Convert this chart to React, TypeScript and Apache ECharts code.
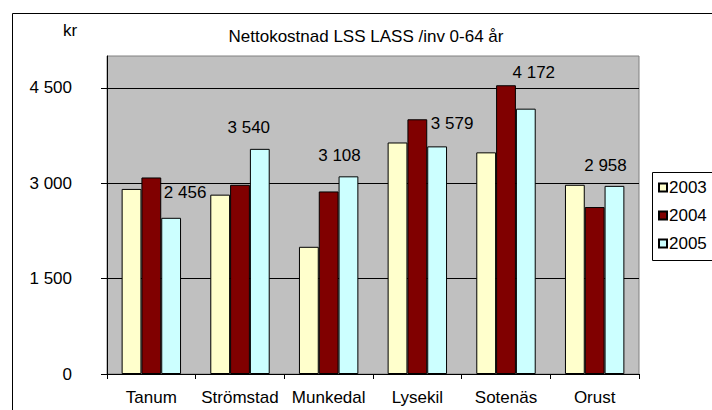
import React, { useEffect, useRef } from "react";
import * as echarts from "echarts";

const categories = ["Tanum", "Strömstad", "Munkedal", "Lysekil", "Sotenäs", "Orust"];
const seriesNames = ["2003", "2004", "2005"];
const values2003 = [2910, 2820, 2000, 3640, 3485, 2975];
const values2004 = [3090, 2975, 2870, 4005, 4540, 2625];
const values2005 = [2456, 3540, 3108, 3579, 4172, 2958];
const yTicks = [0, 1500, 3000, 4500];
const titleText = "Nettokostnad LSS LASS /inv 0-64 år";
const unitText = "kr";

// label placement tweaks for the 2005 data labels (pixels)
const labelOffsets = [
  [14, -13],
  [-11, -9],
  [-9, -8],
  [15, -10],
  [8, -24],
  [-9, -8],
];

const FONT = "Liberation Sans, Arial, sans-serif";
const FS = 17;
const fmt = (v: number) => String(v).replace(/\B(?=(\d{3})+(?!\d))/g, " ");

export default function App() {
  const ref = useRef<HTMLDivElement>(null);
  useEffect(() => {
    document.documentElement.style.overflow = "hidden";
    document.body.style.overflow = "hidden";
    const chart = echarts.init(ref.current!, null, { renderer: "svg" });
    const colors = ["#FFFFCC", "#800000", "#CCFFFF"];
    const vals = [values2003, values2004, values2005];
    const option: any = {
      animation: false,
      backgroundColor: "#ffffff",
      textStyle: { fontFamily: FONT, color: "#000" },
      graphic: [
        {
          type: "rect",
          shape: { x: 12.5, y: 13.5, width: 900, height: 600 },
          style: { fill: "none", stroke: "#000", lineWidth: 1 },
          silent: true,
          z: -10,
        },
        {
          type: "rect",
          shape: { x: 652.5, y: 172.5, width: 200, height: 88 },
          style: { fill: "#fff", stroke: "#000", lineWidth: 1 },
          silent: true,
          z: 0,
        },
        {
          type: "text",
          x: 63,
          y: 30,
          style: { text: unitText, font: `${FS}px ${FONT}`, fill: "#000", textVerticalAlign: "middle" },
        },
        {
          type: "text",
          x: 366,
          y: 36,
          style: {
            text: titleText,
            font: `${FS}px ${FONT}`,
            fill: "#000",
            textAlign: "center",
            textVerticalAlign: "middle",
          },
        },
      ],
      legend: {
        orient: "vertical",
        left: 652,
        top: 172,
        padding: [7, 6, 5, 6],
        itemWidth: 8,
        itemHeight: 8,
        itemGap: 11,
        icon: "rect",
        z: 5,
        textStyle: { fontFamily: FONT, fontSize: FS, color: "#000", padding: [0, 0, 0, -3] },
        data: seriesNames,
      },
      grid: {
        left: 107,
        top: 56,
        width: 532,
        height: 318,
        show: true,
        backgroundColor: "#C0C0C0",
        borderColor: "#808080",
        borderWidth: 1,
      },
      xAxis: {
        type: "category",
        data: categories,
        axisLine: { lineStyle: { color: "#000", width: 1 } },
        axisTick: { show: true, length: 5, lineStyle: { color: "#000" } },
        axisLabel: {
          fontFamily: FONT,
          fontSize: FS,
          color: "#000",
          margin: 15,
          interval: 0,
          hideOverlap: false,
        },
        splitLine: { show: false },
      },
      yAxis: {
        type: "value",
        min: 0,
        max: 5000,
        interval: 1500,
        axisLine: { show: true, lineStyle: { color: "#000", width: 1 } },
        axisTick: { show: true, length: 6, lineStyle: { color: "#000" }, customValues: yTicks },
        axisLabel: {
          fontFamily: FONT,
          fontSize: FS,
          color: "#000",
          margin: 35,
          customValues: yTicks,
          formatter: (v: number) => (yTicks.includes(v) ? fmt(v) : ""),
        },
        splitLine: { show: true, lineStyle: { color: ["#000", "#000", "#000", "#000", "#808080"], width: 1 } },
      },
      series: seriesNames.map((name, i) => ({
        name,
        type: "bar",
        barGap: "0%",
        barCategoryGap: "33%",
        itemStyle: { color: colors[i], borderColor: "#000", borderWidth: 1 },
        data:
          i === 2
            ? vals[i].map((v, j) => ({
                value: v,
                label: { offset: labelOffsets[j] },
              }))
            : vals[i],
        label:
          i === 2
            ? {
                show: true,
                position: "top",
                distance: 4,
                fontFamily: FONT,
                fontSize: FS,
                color: "#000",
                formatter: (p: any) => fmt(p.value),
              }
            : { show: false },
      })),
    };
    chart.setOption(option);
    return () => chart.dispose();
  }, []);
  return (
    <div
      ref={ref}
      style={{ position: "fixed", left: 0, top: 0, width: 800, height: 410 }}
    />
  );
}
